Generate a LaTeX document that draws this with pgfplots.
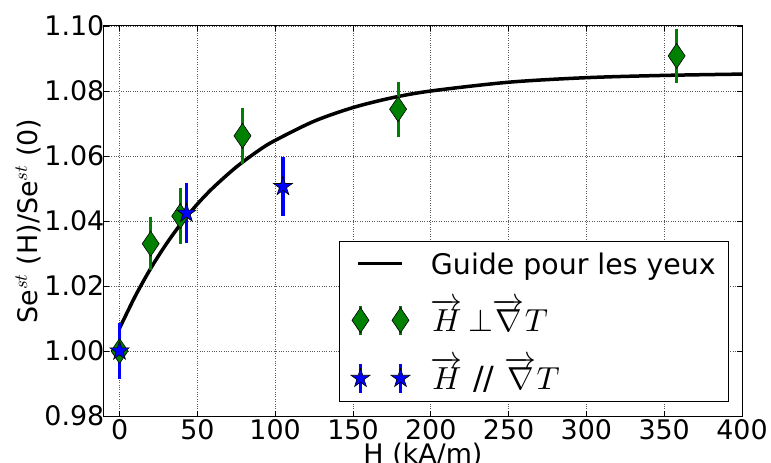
\documentclass[border=0pt]{standalone}
\DeclareFontShape{OML}{cmm}{m}{it}{<->cmmi10}{}
\DeclareFontShape{OMS}{cmsy}{m}{n}{<->cmsy10}{}
\DeclareFontShape{OT1}{cmr}{m}{n}{<->cmr10}{}
\usepackage{pgfplots}
\pgfplotsset{compat=1.18}
\usepackage{fontspec}
\setmainfont{DejaVu Sans}
\definecolor{mplgreen}{RGB}{0,128,0}
\definecolor{mplblue}{RGB}{0,0,255}
\pgfdeclareplotmark{tdiamond}{%
 \pgfpathmoveto{\pgfqpoint{0pt}{\pgfplotmarksize}}%
 \pgfpathlineto{\pgfqpoint{0.68\pgfplotmarksize}{0pt}}%
 \pgfpathlineto{\pgfqpoint{0pt}{-\pgfplotmarksize}}%
 \pgfpathlineto{\pgfqpoint{-0.68\pgfplotmarksize}{0pt}}%
 \pgfpathclose\pgfusepathqfillstroke}
\pgfdeclareplotmark{fstar}{%
 \pgfpathmoveto{\pgfpointpolar{90}{\pgfplotmarksize}}%
 \pgfpathlineto{\pgfpointpolar{126}{0.38\pgfplotmarksize}}%
 \pgfpathlineto{\pgfpointpolar{162}{\pgfplotmarksize}}%
 \pgfpathlineto{\pgfpointpolar{198}{0.38\pgfplotmarksize}}%
 \pgfpathlineto{\pgfpointpolar{234}{\pgfplotmarksize}}%
 \pgfpathlineto{\pgfpointpolar{270}{0.38\pgfplotmarksize}}%
 \pgfpathlineto{\pgfpointpolar{306}{\pgfplotmarksize}}%
 \pgfpathlineto{\pgfpointpolar{342}{0.38\pgfplotmarksize}}%
 \pgfpathlineto{\pgfpointpolar{18}{\pgfplotmarksize}}%
 \pgfpathlineto{\pgfpointpolar{54}{0.38\pgfplotmarksize}}%
 \pgfpathclose\pgfusepathqfillstroke}
\newcommand{\bigf}{\fontsize{27}{32}\selectfont}
\newcommand{\legf}{\fontsize{28.5}{33}\selectfont}
\newcommand{\legbox}[1]{\raisebox{0pt}[24bp][10bp]{#1}}
\begin{document}
\begin{tikzpicture}
\begin{axis}[
  scale only axis, width=638bp, height=390bp,
  xmin=-10, xmax=400, ymin=0.98, ymax=1.10,
  xtick={0,50,...,400},
  ytick={0.98,1.00,1.02,1.04,1.06,1.08,1.10},
  yticklabel style={/pgf/number format/fixed, /pgf/number format/fixed zerofill, /pgf/number format/precision=2},
  /pgf/number format/assume math mode=true,
  tick label style={font=\bigf},
  xticklabel style={anchor=north, inner sep=0pt, yshift=-3bp},
  yticklabel style={anchor=east, inner sep=0pt, xshift=0.5bp},
  tick align=inside, major tick length=5bp,
  tick style={black, line width=0.8bp},
  axis line style={black, line width=1bp},
  grid=major,
  grid style={dotted, black!65, line width=0.7bp},
  xlabel={H (kA/m)},
  ylabel={Se$^{st}$ (H)/Se$^{st}$ (0)},
  every axis x label/.style={at={(axis description cs:0.5,0)}, anchor=base, yshift=-47bp, font=\bigf},
  every axis y label/.style={at={(axis description cs:-0.105,0.5)}, anchor=base, rotate=90, font=\bigf},
  legend style={at={(axis description cs:0.98,0.036)}, anchor=south east,
    draw=black, line width=1bp, fill=white, font=\legf,
    inner xsep=11bp, inner ysep=7bp, row sep=26bp, column sep=19bp,
    nodes={inner sep=2bp}},
  legend cell align=left,
]
\addplot[black, line width=3.5bp, smooth,
  legend image code/.code={\draw[black, line width=3.5bp] (0bp,0bp) -- (44bp,0bp);}]
  coordinates {
  (0,1.0070) (10,1.0168) (20,1.0254) (30,1.0329) (40,1.0395) (50,1.0452)
  (60,1.0502) (75,1.0566) (90,1.0619) (100,1.0648) (125,1.0707) (150,1.0749)
  (175,1.0779) (200,1.0800) (250,1.0827) (300,1.0841) (350,1.0848) (400,1.0852)};
\addlegendentry{\legbox{Guide pour les yeux}}
% green error bars
\addplot[draw=none, mark=none, forget plot,
  error bars/.cd, y dir=both, y explicit, error mark=none,
  error bar style={draw=mplgreen, line width=3bp}]
  coordinates {
  (0,1.0000) +- (0,0.0020)
  (20,1.0330) +- (0,0.0082)
  (39,1.0415) +- (0,0.0085)
  (79,1.0662) +- (0,0.0086)
  (179,1.0744) +- (0,0.0085)
  (358,1.0908) +- (0,0.0084)};
\addplot[only marks, mark=tdiamond, mark size=12.5bp,
  mark options={fill=mplgreen, draw=black, line width=0.6bp},
  legend image code/.code={%
    \draw[mplgreen, line width=3bp] (2bp,-14.5bp) -- (2bp,14.5bp) (42bp,-14.5bp) -- (42bp,14.5bp);
    \draw[fill=mplgreen, draw=black, line width=0.6bp, mark=tdiamond, mark size=12.5bp, only marks] plot coordinates {(2bp,0bp) (42bp,0bp)};}]
  coordinates {
  (0,1.0000) (20,1.0330) (39,1.0415) (79,1.0662) (179,1.0744) (358,1.0908)};
\addlegendentry{\legbox{\fontsize{32}{37}\selectfont$\overrightarrow{H}\,{\perp}\overrightarrow{\nabla}T$}}
% blue error bars
\addplot[draw=none, mark=none, forget plot,
  error bars/.cd, y dir=both, y explicit, error mark=none,
  error bar style={draw=mplblue, line width=3.2bp}]
  coordinates {
  (0,1.0000) +- (0,0.0085)
  (43,1.0424) +- (0,0.0093)
  (105,1.0506) +- (0,0.0092)};
\addplot[only marks, mark=fstar, mark size=10bp,
  mark options={fill=mplblue, draw=black, line width=0.6bp},
  legend image code/.code={%
    \draw[mplblue, line width=3.2bp] (2bp,-14.5bp) -- (2bp,14.5bp) (42bp,-14.5bp) -- (42bp,14.5bp);
    \draw[fill=mplblue, draw=black, line width=0.6bp, mark=fstar, mark size=10bp, only marks] plot coordinates {(2bp,0bp) (42bp,0bp)};}]
  coordinates {
  (0,1.0000) (43,1.0424) (105,1.0506)};
\addlegendentry{\legbox{\fontsize{32}{37}\selectfont$\overrightarrow{H}$ // $\overrightarrow{\nabla}T$}}
\end{axis}
\pgfresetboundingbox
\path[use as bounding box] (-104bp,-47bp) rectangle (667bp,416bp);
\end{tikzpicture}
\end{document}
